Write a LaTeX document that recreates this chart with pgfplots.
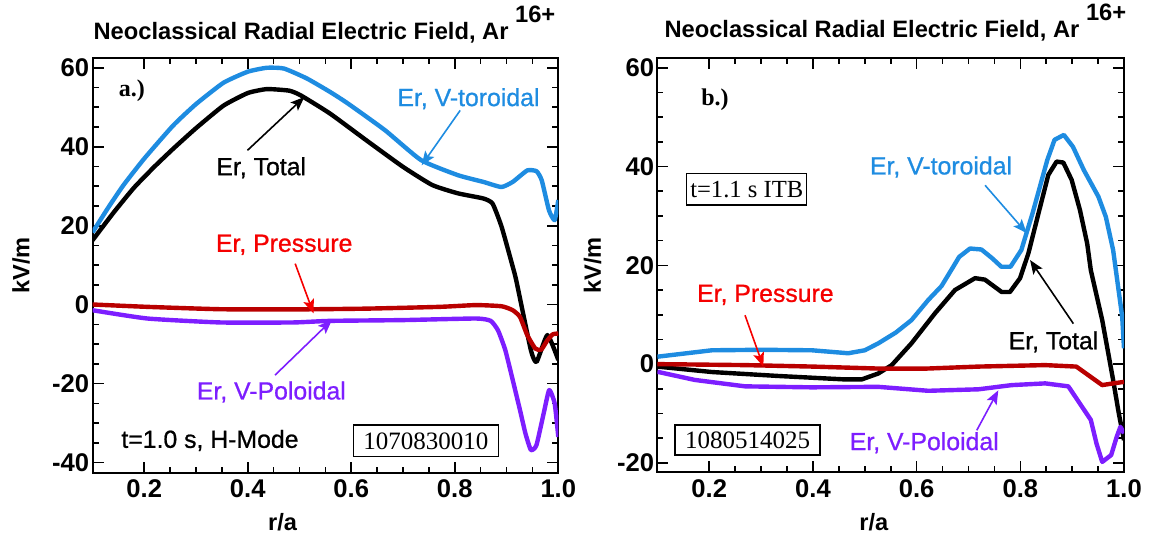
\documentclass[border=0pt]{standalone}
\usepackage{fontspec}
\setmainfont{Liberation Sans}
\newfontfamily\serif{Liberation Serif}
\newfontfamily\annfont[FakeBold=0.8]{Liberation Sans}
\usepackage{pgfplots}
\pgfplotsset{compat=1.18}
\usetikzlibrary{arrows.meta}

\definecolor{tor}{RGB}{30,140,225}
\definecolor{pres}{RGB}{185,0,0}
\definecolor{presT}{RGB}{245,0,0}
\definecolor{pol}{RGB}{125,30,255}

\pgfplotsset{
  erpanel/.style={
    scale only axis,
    anchor=south west,
    clip mode=individual,
    xmin=0.1, xmax=1.0,
    xtick={0.2,0.4,0.6,0.8,1.0},
    xticklabels={0.2,0.4,0.6,0.8,1.0},
    minor x tick num=3,
    minor y tick num=3,
    tick align=inside,
    major tick length=5.5pt,
    minor tick length=3pt,
    axis line style={line width=1pt},
    every tick/.style={line width=0.8pt, black},
    tick label style={font=\fontsize{12.8}{13}\selectfont\bfseries},
    yticklabel style={inner xsep=1.5pt},
    label style={font=\fontsize{11.8}{12}\selectfont\bfseries},
    ylabel={kV/m},
    xlabel={r/a},
    ylabel style={anchor=center, rotate=0},
    xlabel style={anchor=center},
  },
}
\tikzset{
  crv/.style={line width=2.2pt, line join=round},
  ann/.style={font=\fontsize{12.4}{13}\annfont, anchor=base},
  arr/.style={line width=0.8pt, -{Stealth[length=7pt,width=5.5pt,inset=1.5pt]}},
  ttl/.style={font=\fontsize{11.85}{12}\selectfont\bfseries, anchor=base},
}

\begin{document}
\begin{tikzpicture}
\useasboundingbox (0,0) rectangle (574.5pt,268.5pt);

% ---------------- Panel a ----------------
\begin{axis}[erpanel,
  at={(46.25pt,32.25pt)}, width=232.9pt, height=207.1pt,
  ymin=-42.5, ymax=62.4,
  ytick={-40,-20,0,20,40,60},
  yticklabels={-40,-20,0,20,40,60},
  xlabel style={at={(axis description cs:0.408,-0.119)}},
  ylabel style={at={(axis description cs:-0.1535,0.5)}},
]
% Er, V-toroidal
\addplot[crv, color=tor, smooth, tension=0.3] coordinates {
(0.100,18.3) (0.130,24.5) (0.160,30.3) (0.200,37.0) (0.256,45.4) (0.300,50.8)
(0.353,56.2) (0.400,59.0) (0.437,60.0) (0.470,59.8) (0.514,57.3) (0.560,53.8)
(0.594,50.9) (0.665,44.2) (0.735,36.6) (0.806,32.8) (0.855,31.1) (0.890,29.8)
(0.912,31.1) (0.940,34.0) (0.958,33.8) (0.968,31.5) (0.982,23.9) (0.993,21.4)
(1.000,26.5)};
% Er, Total
\addplot[crv, color=black, smooth, tension=0.3] coordinates {
(0.100,16.3) (0.140,23.2) (0.180,29.6) (0.220,35.0) (0.256,39.5) (0.300,44.7)
(0.353,50.4) (0.400,53.6) (0.437,54.6) (0.480,54.2) (0.5025,53.0) (0.559,48.4)
(0.6294,41.6) (0.700,34.9) (0.7565,30.3) (0.806,28.2) (0.855,26.9) (0.873,25.6)
(0.8905,19.7) (0.912,9.6) (0.919,6.0) (0.947,-11.5) (0.958,-14.5) (0.979,-7.7)
(1.000,-14.0)};
% Er, V-Poloidal
\addplot[crv, color=pol, smooth, tension=0.3] coordinates {
(0.100,-1.4) (0.206,-3.5) (0.347,-4.5) (0.488,-4.5) (0.559,-4.1) (0.700,-3.9)
(0.841,-3.5) (0.8694,-4.1) (0.8835,-6.5) (0.8976,-11.5) (0.912,-19.1) (0.926,-26.7)
(0.9365,-32.6) (0.947,-36.8) (0.9577,-35.6) (0.9718,-27.5) (0.9824,-21.6)
(0.993,-25.0) (1.000,-33.5)};
% Er, Pressure
\addplot[crv, color=pres, smooth, tension=0.3] coordinates {
(0.100,0.05) (0.206,-0.55) (0.347,-1.15) (0.488,-1.2) (0.6294,-1.0) (0.7706,-0.55)
(0.841,-0.1) (0.8905,-0.4) (0.912,-1.4) (0.926,-3.1) (0.940,-7.7) (0.9555,-11.1)
(0.967,-11.4) (0.979,-9.0) (0.9894,-7.5) (1.000,-7.3)};

\node[ttl] at (rel axis cs:0.498,1.0459) {Neoclassical Radial Electric Field, Ar \raisebox{8.3pt}{16+}};
\node[anchor=base, font=\fontsize{12}{12}\selectfont\serif\bfseries] at (axis cs:0.1763,52.6) {a.)};
\node[ann, text=tor] at (axis cs:0.8264,50.3) {Er, V-toroidal};
\draw[arr, tor] (axis cs:0.8104,49.2) -- (axis cs:0.736,35.3);
\node[ann, text=black] at (axis cs:0.426,32.8) {Er, Total};
\draw[arr, black] (axis cs:0.3995,39.1) -- (axis cs:0.5094,52.6);
\node[ann, text=presT] at (axis cs:0.4704,13.4) {Er, Pressure};
\draw[arr, presT] (axis cs:0.4916,10.4) -- (axis cs:0.527,-2.2);
\node[ann, text=pol] at (axis cs:0.4456,-24.0) {Er, V-Poloidal};
\draw[arr, pol] (axis cs:0.4526,-17.85) -- (axis cs:0.5625,-3.9);
\node[ann] at (axis cs:0.327,-36.25) {t=1.0 s, H-Mode};
\node[draw, line width=0.75pt, inner sep=0pt, minimum width=72.5pt, minimum height=15.8pt,
      font=\fontsize{12.5}{13}\selectfont\serif, fill=white] at (axis cs:0.744,-34.5) {1070830010};
\end{axis}

% ---------------- Panel b ----------------
\begin{axis}[erpanel,
  at={(328.7pt,32.35pt)}, width=233.3pt, height=207pt,
  ymin=-21.9, ymax=61.9,
  ytick={-20,0,20,40,60},
  yticklabels={-20,0,20,40,60},
  xlabel style={at={(axis description cs:0.464,-0.12)}},
  ylabel style={at={(axis description cs:-0.139,0.5)}},
]
% Er, V-toroidal
\addplot[crv, color=tor] coordinates {
(0.100,1.5) (0.205,2.8) (0.300,2.9) (0.398,2.8) (0.468,2.2) (0.500,2.8) (0.526,4.2)
(0.560,6.4) (0.590,8.9) (0.6226,13.0) (0.648,15.8) (0.670,19.6) (0.682,21.7)
(0.703,23.4) (0.725,23.2) (0.746,21.4) (0.7635,19.7) (0.781,19.7) (0.802,23.1)
(0.8235,30.5) (0.852,41.3) (0.866,45.4) (0.884,46.4) (0.9015,44.0) (0.9224,39.3)
(0.9506,33.9) (0.965,29.8) (0.979,23.1) (0.9965,9.6) (1.000,3.2)};
% Er, Total
\addplot[crv, color=black] coordinates {
(0.100,-0.5) (0.205,-1.6) (0.333,-2.4) (0.462,-3.1) (0.494,-3.1) (0.526,-1.9)
(0.552,-0.2) (0.590,4.2) (0.6355,10.3) (0.674,15.0) (0.7127,17.4) (0.7317,17.1)
(0.764,14.6) (0.780,14.6) (0.7995,17.4) (0.8155,22.4) (0.835,30.5) (0.854,38.3)
(0.870,41.0) (0.883,40.8) (0.899,37.3) (0.915,31.2) (0.929,24.4) (0.936,19.0)
(0.958,8.9) (0.979,-3.2) (0.990,-10.0) (1.000,-15.4)};
% Er, V-Poloidal
\addplot[crv, color=pol] coordinates {
(0.100,-1.55) (0.172,-3.2) (0.269,-4.5) (0.398,-4.7) (0.526,-4.6) (0.6226,-5.4)
(0.719,-5.1) (0.7835,-4.25) (0.848,-3.9) (0.8926,-4.5) (0.915,-8.0) (0.936,-11.3)
(0.947,-16.1) (0.958,-19.8) (0.9753,-18.4) (0.986,-14.7) (0.993,-12.7) (1.000,-14.0)};
% Er, Pressure
\addplot[crv, color=pres] coordinates {
(0.100,0.0) (0.269,-0.2) (0.400,-0.5) (0.526,-0.9) (0.620,-0.9) (0.719,-0.5)
(0.848,-0.2) (0.908,-0.5) (0.936,-2.6) (0.958,-4.25) (0.979,-3.9) (1.000,-3.6)};

\node[ttl] at (rel axis cs:0.51,1.0507) {Neoclassical Radial Electric Field, Ar \raisebox{8.3pt}{16+}};
\node[anchor=base, font=\fontsize{12}{12}\selectfont\serif\bfseries] at (axis cs:0.211,52.4) {b.)};
\node[draw, line width=0.75pt, inner sep=0pt, minimum width=60pt, minimum height=15.8pt,
      font=\fontsize{12.3}{13}\selectfont\serif, fill=white] at (axis cs:0.2723,35.4) {t=1.1 s ITB};
\node[ann, text=tor] at (axis cs:0.647,38.4) {Er, V-toroidal};
\draw[arr, tor] (axis cs:0.732,36.2) -- (axis cs:0.8124,26.5);
\node[ann, text=black] at (axis cs:0.864,3.0) {Er, Total};
\draw[arr, black] (axis cs:0.9023,8.2) -- (axis cs:0.8188,21.06);
\node[ann, text=presT] at (axis cs:0.3083,12.6) {Er, Pressure};
\draw[arr, presT] (axis cs:0.269,9.9) -- (axis cs:0.3043,-0.5);
\node[ann, text=pol] at (axis cs:0.6147,-17.4) {Er, V-Poloidal};
\draw[arr, pol] (axis cs:0.716,-13.4) -- (axis cs:0.7576,-5.3);
\node[draw, line width=0.75pt, inner sep=0pt, minimum width=72.5pt, minimum height=15pt,
      font=\fontsize{12.5}{13}\selectfont\serif, fill=white] at (axis cs:0.2738,-15.4) {1080514025};
\end{axis}
\end{tikzpicture}
\end{document}
